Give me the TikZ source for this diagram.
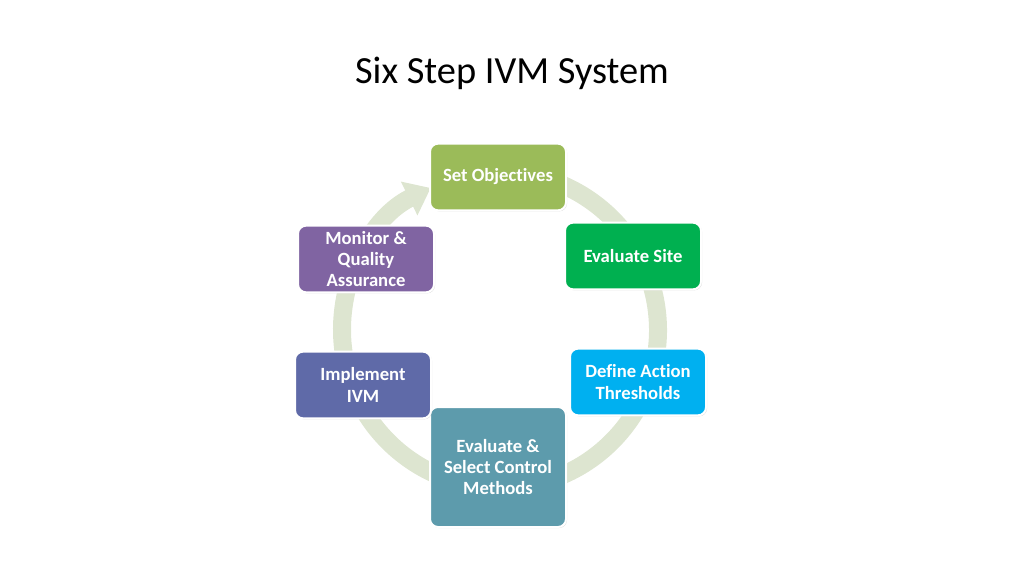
\documentclass[tikz,border=0pt]{standalone}
\usepackage{fontspec}
\setmainfont{Carlito}[Ligatures={TeX,NoCommon}]
\usetikzlibrary{arrows.meta,shadows}

\definecolor{ringgreen}{RGB}{221,229,208}
\definecolor{objgreen}{RGB}{155,187,89}
\definecolor{sitegreen}{RGB}{0,176,80}
\definecolor{actblue}{RGB}{0,176,240}
\definecolor{selteal}{RGB}{93,155,172}
\definecolor{impblue}{RGB}{95,106,168}
\definecolor{monpurple}{RGB}{128,100,162}

\begin{document}
\begin{tikzpicture}[x=0.75pt,y=0.75pt,
	stepbox/.style={rectangle,rounded corners=6pt,draw=white,line width=1.5pt,
		text=white,font=\fontsize{14}{16}\selectfont\bfseries,align=center,
		minimum width=102pt,minimum height=50pt,inner sep=2pt,
		drop shadow={opacity=0.25,shadow xshift=0.8pt,shadow yshift=-0.8pt}},]
	\useasboundingbox (0,0) rectangle (1024,576);
	\node [font=\fontsize{28.8}{34}\selectfont] (title) at (512,503) {Six Step IVM System};
	\coordinate (c) at (500,246);
	% cycle arrow behind the boxes
	\draw [ringgreen,line width=13.5pt,-{Triangle[width=27pt,length=18pt]}]
		(c) ++(95:158) arc[start angle=95,end angle=-244,radius=118.5pt];
	\node [stepbox,fill=objgreen] (obj) at (498,399) {Set Objectives};
	\node [stepbox,fill=sitegreen] (site) at (633,320) {Evaluate Site};
	\node [stepbox,fill=actblue] (act) at (638,194) {Define Action\\Thresholds};
	\node [stepbox,fill=selteal,minimum height=90pt] (sel) at (498,109) {Evaluate \&\\Select Control\\Methods};
	\node [stepbox,fill=impblue] (imp) at (363,191) {Implement\\IVM};
	\node [stepbox,fill=monpurple] (mon) at (366,317) {Monitor \&\\Quality\\Assurance};
\end{tikzpicture}
\end{document}
